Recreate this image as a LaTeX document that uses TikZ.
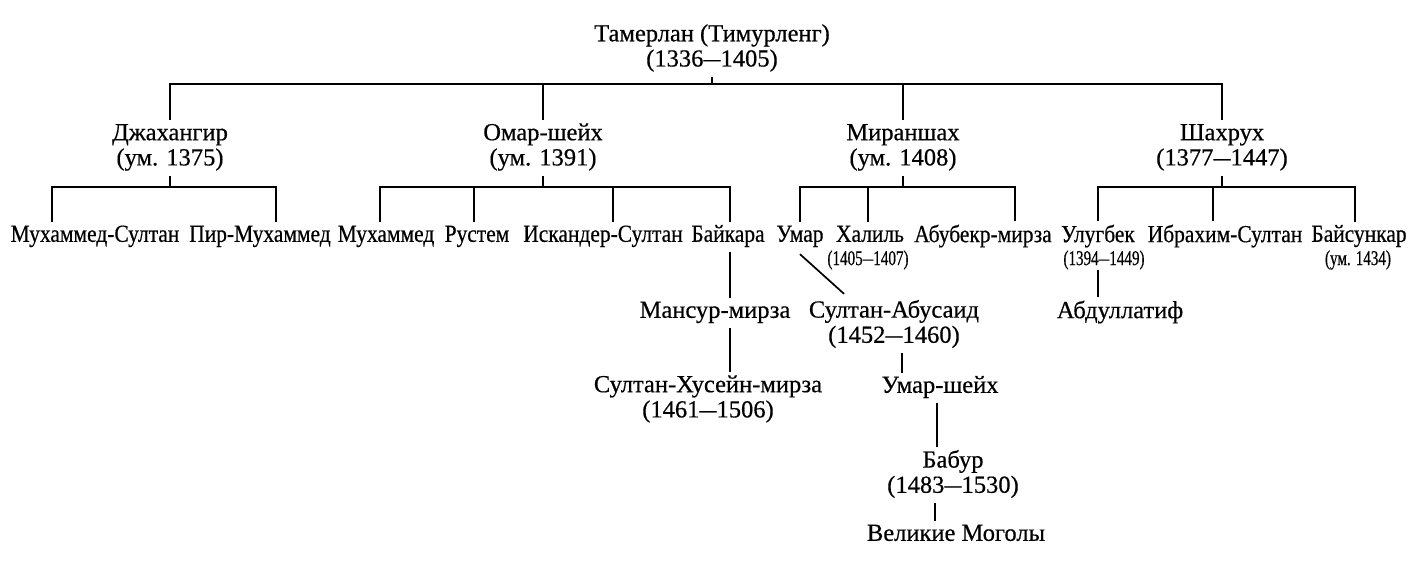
\documentclass[tikz,border=0pt]{standalone}
\usepackage{graphicx}
\usepackage{fontspec}
\setmainfont[FakeBold=0.5]{Liberation Serif}
\newfontfamily\rowf[FakeStretch=0.876,FakeBold=0.5]{Liberation Serif}
\newfontfamily\condf[FakeStretch=0.72,FakeBold=0.5]{Liberation Serif}
\newcommand\dsh{\scalebox{0.7}[1]{—}}
\begin{document}
\begin{tikzpicture}[x=1pt,y=-1pt,
  nm/.style={font=\fontsize{24.5}{24}\selectfont, align=center, inner xsep=0pt, inner ysep=3pt},
  rw/.style={nm, font=\rowf\fontsize{24.5}{24}\selectfont},
  sm/.style={font=\condf\fontsize{21}{21}\selectfont, inner sep=0pt},
  ln/.style={line width=1.7pt}]
\useasboundingbox (0,0) rectangle (1421,572);
% top
\node[nm] (tam) at (712,49) {\strut Тамерлан (Тимурленг)\\\strut(1336\dsh1405)};
\node[nm] (dzh) at (170,148) {\strut Джахангир\\\strut(ум. 1375)};
\node[nm] (omar) at (543,148) {\strut Омар-шейх\\\strut(ум. 1391)};
\node[nm] (miran) at (903,148) {\strut Мираншах\\\strut(ум. 1408)};
\node[nm] (shah) at (1222,148) {\strut Шахрух\\\strut(1377\dsh1447)};
% row 2
\node[rw] (ms) at (95,237) {\strut Мухаммед-Султан};
\node[rw] (pm) at (260,237) {\strut Пир-Мухаммед};
\node[rw] (muh) at (386,237) {\strut Мухаммед};
\node[rw] (rus) at (477,237) {\strut Рустем};
\node[rw] (isk) at (603,237) {\strut Искандер-Султан};
\node[rw] (bay) at (728,237) {\strut Байкара};
\node[rw] (umar) at (800,237) {\strut Умар};
\node[rw] (hal) at (870,237) {\strut Халиль};
\node[rw] (abu) at (983,237) {\strut Абубекр-мирза};
\node[rw] (ulu) at (1098,237) {\strut Улугбек};
\node[rw] (ibr) at (1225,237) {\strut Ибрахим-Султан};
\node[rw] (bays) at (1359,237) {\strut Байсункар};
% small dates
\node[sm] (hald) at (868,260) {(1405\dsh1407)};
\node[sm] (ulud) at (1104,260) {(1394\dsh1449)};
\node[sm] (baysd) at (1358,260) {(ум. 1434)};
% lower
\node[nm] (abd) at (1120,313) {\strut Абдуллатиф};
\node[nm] (man) at (715,313) {\strut Мансур-мирза};
\node[nm] (abus) at (894,325) {\strut Султан-Абусаид\\\strut(1452\dsh1460)};
\node[nm] (shus) at (708,400) {\strut Султан-Хусейн-мирза\\\strut(1461\dsh1506)};
\node[nm] (umsh) at (940,388) {\strut Умар-шейх};
\node[nm] (bab) at (953,475) {\strut Бабур\\\strut(1483\dsh1530)};
\node[nm] (vm) at (956,536) {\strut Великие Моголы};
% bus coordinates
\coordinate (b0) at (0,84);
\coordinate (b1) at (0,187);
% connectors
\draw[ln] (tam.south) -- (tam.south |- b0);
\draw[ln] (dzh.north) -- (dzh.north |- b0) -- (shah.north |- b0) -- (shah.north);
\draw[ln] (omar.north) -- (omar.north |- b0);
\draw[ln] (miran.north) -- (miran.north |- b0);
% Dzhahangir
\draw[ln] (dzh.south) -- (dzh.south |- b1);
\draw[ln] ([xshift=-43pt]ms.north) -- ([xshift=-43pt]ms.north |- b1) -- ([xshift=16pt]pm.north |- b1) -- ([xshift=16pt]pm.north);
% Omar
\draw[ln] (omar.south) -- (omar.south |- b1);
\draw[ln] ([xshift=-6pt]muh.north) -- ([xshift=-6pt]muh.north |- b1) -- ([xshift=2pt]bay.north |- b1) -- ([xshift=2pt]bay.north);
\draw[ln] ([xshift=-3pt]rus.north) -- ([xshift=-3pt]rus.north |- b1);
\draw[ln] ([xshift=10pt]isk.north) -- ([xshift=10pt]isk.north |- b1);
% Miranshah
\draw[ln] (miran.south) -- (miran.south |- b1);
\draw[ln] (umar.north) -- (umar.north |- b1) -- ([xshift=32pt]abu.north |- b1) -- ([xshift=32pt]abu.north);
\draw[ln] ([xshift=-2pt]hal.north) -- ([xshift=-2pt]hal.north |- b1);
% Shahrukh
\draw[ln] (shah.south) -- (shah.south |- b1);
\draw[ln] (ulu.north) -- (ulu.north |- b1) -- ([xshift=-4pt]bays.north |- b1) -- ([xshift=-4pt]bays.north);
\draw[ln] ([xshift=-12pt]ibr.north) -- ([xshift=-12pt]ibr.north |- b1);
% descendants
\draw[ln] ([xshift=-6pt]ulud.south) -- ([xshift=-6pt]ulud.south |- abd.north);
\draw[ln] ([xshift=2pt]bay.south) -- ([xshift=2pt]bay.south |- man.north);
\draw[ln] ([xshift=15pt]man.south) -- ([xshift=15pt]man.south |- shus.north);
\draw[ln] ([yshift=-2pt]umar.south) -- ([xshift=-50pt,yshift=3pt]abus.north);
\draw[ln] ([xshift=8pt]abus.south) -- ([xshift=8pt]abus.south |- umsh.north);
\draw[ln] ([xshift=-3pt]umsh.south) -- ([xshift=-3pt]umsh.south |- bab.north);
\draw[ln] ([xshift=-18pt]bab.south) -- ([xshift=-18pt]bab.south |- vm.north);
\end{tikzpicture}
\end{document}
